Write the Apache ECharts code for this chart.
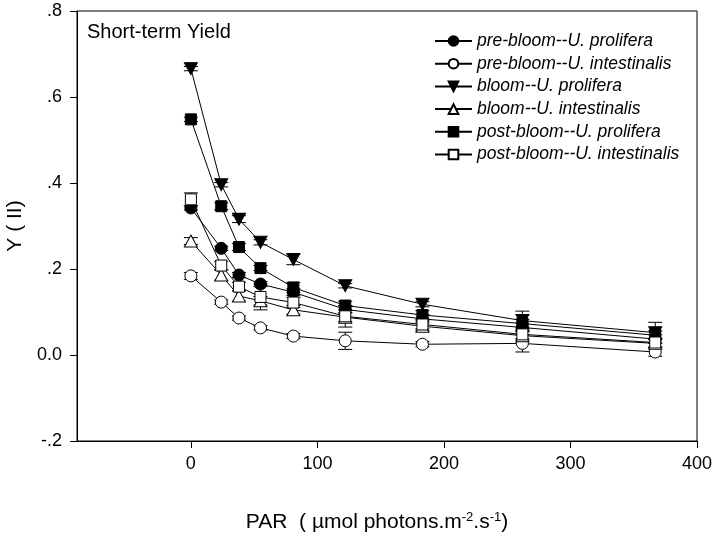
<!DOCTYPE html>
<html>
<head>
<meta charset="utf-8">
<script src="https://cdn.jsdelivr.net/npm/echarts@6/dist/echarts.min.js"></script>
<style>
html,body{margin:0;padding:0;background:#fff;}
#chart{width:716px;height:542px;}
</style>
</head>
<body>
<div id="chart"></div>
<script>
// ---- data ----
const par = [0, 24, 38, 55, 81, 122, 183, 262, 367];

const preBloomProlifera      = [0.342, 0.248, 0.186, 0.165, 0.146, 0.106, 0.084, 0.064, 0.037];
const preBloomIntestinalis   = [0.184, 0.123, 0.086, 0.063, 0.044, 0.033, 0.025, 0.027, 0.007];
const bloomProlifera         = [0.666, 0.396, 0.316, 0.262, 0.222, 0.161, 0.118, 0.080, 0.052];
const bloomIntestinalis      = [0.265, 0.186, 0.137, 0.126, 0.105, 0.088, 0.067, 0.045, 0.027];
const postBloomProlifera     = [0.548, 0.346, 0.251, 0.202, 0.157, 0.115, 0.093, 0.073, 0.046];
const postBloomIntestinalis  = [0.362, 0.208, 0.159, 0.135, 0.122, 0.090, 0.071, 0.048, 0.029];

const preBloomProliferaSE     = [0.005, 0.005, 0.006, 0.006, 0.008, 0.008, 0.010, 0.010, 0.010];
const preBloomIntestinalisSE  = [0.008, 0.005, 0.005, 0.005, 0.006, 0.020, 0.006, 0.020, 0.010];
const bloomProliferaSE        = [0.005, 0.005, 0.008, 0.006, 0.012, 0.005, 0.006, 0.022, 0.024];
const bloomIntestinalisSE     = [0.008, 0.012, 0.012, 0.010, 0.010, 0.010, 0.010, 0.010, 0.010];
const postBloomProliferaSE    = [0.005, 0.008, 0.008, 0.006, 0.012, 0.010, 0.010, 0.010, 0.010];
const postBloomIntestinalisSE = [0.015, 0.010, 0.010, 0.030, 0.012, 0.025, 0.010, 0.010, 0.010];

const seriesNames = [
  'pre-bloom--U. prolifera',
  'pre-bloom--U. intestinalis',
  'bloom--U. prolifera',
  'bloom--U. intestinalis',
  'post-bloom--U. prolifera',
  'post-bloom--U. intestinalis'
];

const xTicks = [0, 100, 200, 300, 400];
const yTicks = [-0.2, 0, 0.2, 0.4, 0.6, 0.8];

const title = 'Short-term Yield';
const xTitle = 'PAR  ( µmol photons.m{sup|-2}.s{sup|-1})';
const yTitle = 'Y ( II)';

// ---- chart ----
const FONT = '"Liberation Sans", Arial, sans-serif';
const TRI_DOWN = 'path://M0,0 L10,0 L5,9 Z';

const styles = [
  {symbol: 'circle', filled: true, size: 12},
  {symbol: 'circle', filled: false, size: 12},
  {symbol: TRI_DOWN, filled: true, size: [13, 12]},
  {symbol: 'triangle', filled: false, size: [13, 12]},
  {symbol: 'rect', filled: true, size: 11},
  {symbol: 'rect', filled: false, size: 11}
];

const values = [preBloomProlifera, preBloomIntestinalis, bloomProlifera,
                bloomIntestinalis, postBloomProlifera, postBloomIntestinalis];
const errors = [preBloomProliferaSE, preBloomIntestinalisSE, bloomProliferaSE,
                bloomIntestinalisSE, postBloomProliferaSE, postBloomIntestinalisSE];

function errorSeries(idx) {
  const ys = values[idx], se = errors[idx];
  return {
    type: 'custom',
    name: seriesNames[idx] + ' error',
    silent: true,
    z: 1 + idx * 0.01,
    encode: {x: 0, y: [1, 2]},
    data: par.map((x, i) => [x, ys[i] - se[i], ys[i] + se[i]]),
    renderItem: function (params, api) {
      const x = api.value(0);
      const top = api.coord([x, api.value(2)]);
      const bot = api.coord([x, api.value(1)]);
      const w = 7;
      const st = {stroke: '#000', lineWidth: 1};
      return {
        type: 'group',
        children: [
          {type: 'line', shape: {x1: top[0], y1: top[1], x2: bot[0], y2: bot[1]}, style: st},
          {type: 'line', shape: {x1: top[0] - w, y1: top[1], x2: top[0] + w, y2: top[1]}, style: st},
          {type: 'line', shape: {x1: bot[0] - w, y1: bot[1], x2: bot[0] + w, y2: bot[1]}, style: st}
        ]
      };
    }
  };
}

function lineSeries(idx) {
  const s = styles[idx];
  return {
    type: 'line',
    name: seriesNames[idx],
    z: 3 + idx * 0.01,
    data: par.map((x, i) => [x, values[idx][i]]),
    symbol: s.symbol,
    symbolSize: s.size,
    showAllSymbol: true,
    lineStyle: {color: '#000', width: 1},
    itemStyle: {
      color: s.filled ? '#000' : '#fff',
      borderColor: '#000',
      borderWidth: 1,
      opacity: 1
    },
    emphasis: {disabled: true},
    animation: false
  };
}

const series = [];
for (let i = 0; i < 6; i++) {
  series.push(errorSeries(i));
  series.push(lineSeries(i));
}

function yFmt(v) {
  if (Math.abs(v) < 1e-9) return '0.0';
  const s = v.toFixed(1);
  return s.replace(/^(-?)0\./, '$1.');
}

const chart = echarts.init(document.getElementById('chart'), null, {renderer: 'canvas'});
chart.setOption({
  animation: false,
  backgroundColor: '#fff',
  textStyle: {fontFamily: FONT, color: '#000'},
  title: {
    text: title,
    left: 87, top: 22, padding: 0,
    textStyle: {fontFamily: FONT, fontSize: 20, fontWeight: 'normal', color: '#000'}
  },
  legend: {
    data: seriesNames,
    orient: 'vertical',
    left: 429, top: 27,
    itemWidth: 37, itemHeight: 12, itemGap: 4.7,
    selectedMode: false,
    textStyle: {fontFamily: FONT, fontSize: 17.5, fontStyle: 'italic', color: '#000', lineHeight: 17}
  },
  grid: {
    left: 77, right: 19, top: 11, bottom: 101,
    containLabel: false,
    outerBoundsMode: 'none',
    show: true, borderColor: '#000', borderWidth: 1, backgroundColor: 'transparent'
  },
  xAxis: {
    type: 'value',
    min: -90, max: 400,
    name: xTitle,
    nameLocation: 'middle',
    nameGap: 70,
    nameTextStyle: {
      fontFamily: FONT, fontSize: 21, color: '#000', padding: [0, 20, 0, 0],
      rich: {
        sup: {fontFamily: FONT, fontSize: 13, color: '#000', verticalAlign: 'top', padding: [0, 0, 10, 0]}
      }
    },
    axisLine: {show: true, onZero: false, lineStyle: {color: '#000', width: 1}},
    axisTick: {show: true, inside: false, length: 7, customValues: xTicks, lineStyle: {color: '#000'}},
    axisLabel: {show: true, customValues: xTicks, fontFamily: FONT, fontSize: 18, color: '#000', margin: 14},
    splitLine: {show: false}
  },
  yAxis: {
    type: 'value',
    min: -0.2, max: 0.8, interval: 0.2,
    name: yTitle,
    nameLocation: 'middle',
    nameGap: 50,
    nameTextStyle: {fontFamily: FONT, fontSize: 21, color: '#000'},
    axisLine: {show: true, onZero: false, lineStyle: {color: '#000', width: 1}},
    axisTick: {show: true, inside: false, length: 7, customValues: yTicks, lineStyle: {color: '#000'}},
    axisLabel: {show: true, customValues: yTicks, fontFamily: FONT, fontSize: 18, color: '#000', margin: 15, formatter: yFmt},
    splitLine: {show: false}
  },
  series: series
});
</script>
</body>
</html>
